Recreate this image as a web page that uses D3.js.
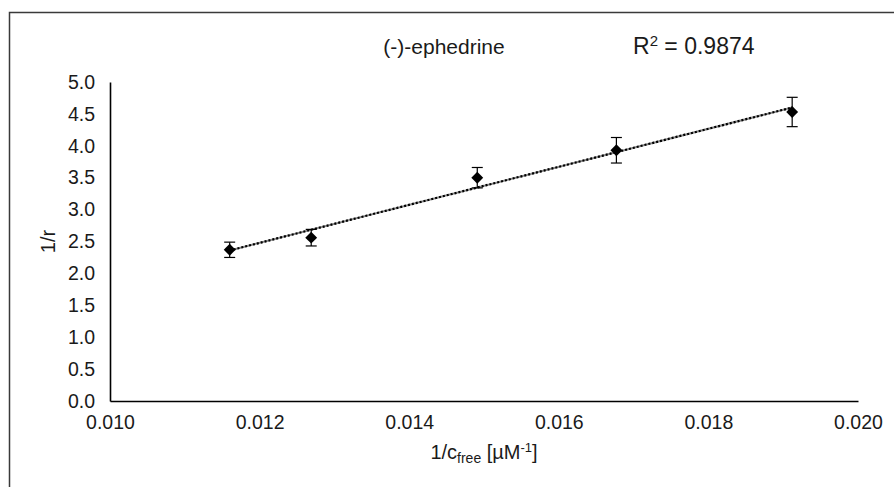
<!DOCTYPE html>
<html>
<head>
<meta charset="utf-8">
<script src="https://cdn.jsdelivr.net/npm/d3@7"></script>
<style>
  body { margin: 0; background: #fff; }
  svg text { font-family: "Liberation Sans", Arial, sans-serif; fill: #1a1a1a; }
</style>
</head>
<body>
<div id="chart"></div>
<script>
// data
const xValues = [0.01160, 0.01269, 0.01491, 0.01677, 0.01912];
const yValues = [2.37, 2.56, 3.50, 3.93, 4.53];
const yErrors = [0.12, 0.13, 0.16, 0.20, 0.23];
const xTicks = [0.010, 0.012, 0.014, 0.016, 0.018, 0.020];
const yTicks = [0.0, 0.5, 1.0, 1.5, 2.0, 2.5, 3.0, 3.5, 4.0, 4.5, 5.0];
const chartTitle = "(-)-ephedrine";
const rSquared = "0.9874";

const WIDTH = 894, HEIGHT = 487;
const MARGINS = { top: 82, right: 36, bottom: 86, left: 110 };
const innerW = WIDTH - MARGINS.left - MARGINS.right;
const innerH = HEIGHT - MARGINS.top - MARGINS.bottom;

const SVG = d3.select("#chart").append("svg")
    .attr("width", WIDTH)
    .attr("height", HEIGHT);

// outer chart border (cropped at right/bottom in the reference)
SVG.append("rect")
    .attr("x", 9.5).attr("y", 12.5)
    .attr("width", WIDTH + 20).attr("height", HEIGHT + 20)
    .attr("fill", "none")
    .attr("stroke", "#3a3a3a")
    .attr("stroke-width", 1.5);

const g = SVG.append("g")
    .attr("transform", "translate(" + MARGINS.left + "," + MARGINS.top + ")");

const x = d3.scaleLinear().domain([0.010, 0.020]).range([0, innerW]);
const y = d3.scaleLinear().domain([0, 5]).range([innerH, 0]);

const xAxis = g.append("g")
    .attr("transform", "translate(0," + innerH + ")")
    .call(d3.axisBottom(x).tickValues(xTicks).tickSize(0).tickPadding(14).tickFormat(d3.format(".3f")));
const yAxis = g.append("g")
    .call(d3.axisLeft(y).tickValues(yTicks).tickSize(0).tickPadding(15).tickFormat(d3.format(".1f")));

[xAxis, yAxis].forEach(ax => {
    ax.select(".domain").attr("stroke", "#000").attr("stroke-width", 1.6);
    ax.selectAll("text").attr("font-size", 19.5).attr("fill", "#1a1a1a");
});

// axis titles
g.append("text")
    .attr("transform", "translate(" + (48 - MARGINS.left) + "," + (innerH / 2) + ") rotate(-90)")
    .attr("text-anchor", "middle")
    .attr("dy", "0.35em")
    .attr("font-size", 20)
    .text("1/r");

const xt = g.append("text")
    .attr("x", innerW / 2)
    .attr("y", innerH + 58)
    .attr("text-anchor", "middle")
    .attr("font-size", 20);
xt.append("tspan").text("1/c");
xt.append("tspan").attr("font-size", 14).attr("dy", 4).text("free");
xt.append("tspan").attr("dy", -4).text(" [µM");
xt.append("tspan").attr("font-size", 13).attr("dy", -7).text("-1");
xt.append("tspan").attr("dy", 7).text("]");

// title and R²
SVG.append("text")
    .attr("x", 444).attr("y", 54)
    .attr("text-anchor", "middle")
    .attr("font-size", 21)
    .text(chartTitle);

const rt = SVG.append("text")
    .attr("x", 633).attr("y", 54)
    .attr("font-size", 23);
rt.append("tspan").text("R");
rt.append("tspan").attr("font-size", 15).attr("dy", -8).text("2");
rt.append("tspan").attr("dy", 8).text(" = " + rSquared);

// linear trendline (least squares from the points)
const mx = d3.mean(xValues), my = d3.mean(yValues);
const slope = d3.sum(xValues, (v, i) => (v - mx) * (yValues[i] - my)) / d3.sum(xValues, v => (v - mx) ** 2);
const intercept = my - slope * mx;
const xMin = d3.min(xValues), xMax = d3.max(xValues);
const trend = [[xMin, intercept + slope * xMin], [xMax, intercept + slope * xMax]];
const line = d3.line().x(d => x(d[0])).y(d => y(d[1]));

g.append("path").datum(trend)
    .attr("d", line)
    .attr("stroke", "#8a8a8a").attr("stroke-width", 2).attr("fill", "none");
g.append("path").datum(trend)
    .attr("d", line)
    .attr("stroke", "#000").attr("stroke-width", 2.2)
    .attr("stroke-dasharray", "2,2").attr("fill", "none");

// error bars
const pts = xValues.map((v, i) => ({ x: v, y: yValues[i], e: yErrors[i] }));
const eb = g.append("g").selectAll("g").data(pts).enter().append("g");
eb.append("line")
    .attr("x1", d => x(d.x)).attr("x2", d => x(d.x))
    .attr("y1", d => y(d.y + d.e)).attr("y2", d => y(d.y - d.e))
    .attr("stroke", "#000").attr("stroke-width", 1.2);
[1, -1].forEach(s => {
    eb.append("line")
        .attr("x1", d => x(d.x) - 5.5).attr("x2", d => x(d.x) + 5.5)
        .attr("y1", d => y(d.y + s * d.e)).attr("y2", d => y(d.y + s * d.e))
        .attr("stroke", "#000").attr("stroke-width", 1.2);
});

// diamond markers
g.append("g").selectAll("path").data(pts).enter().append("path")
    .attr("d", d3.symbol().type(d3.symbolDiamond2).size(90))
    .attr("transform", d => "translate(" + x(d.x) + "," + y(d.y) + ")")
    .attr("fill", "#000");
</script>
</body>
</html>
